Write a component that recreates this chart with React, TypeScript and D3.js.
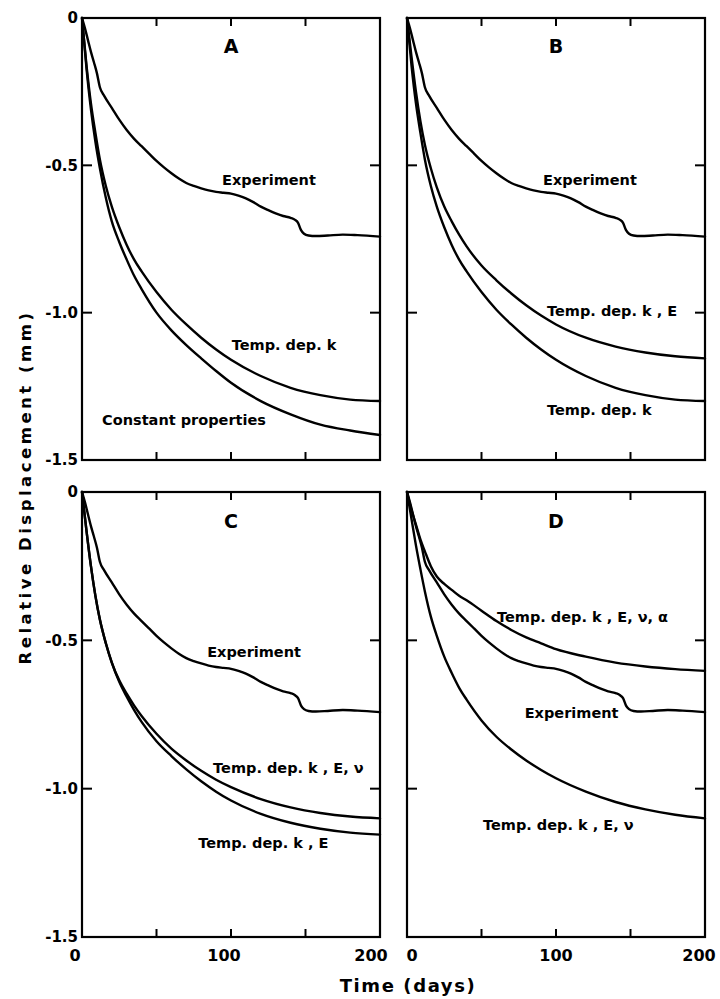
import React from "react";
import * as d3 from "d3";

// ---------- data ----------
const modelT = [0, 3, 6, 9, 12, 16, 20, 25, 30, 35, 40, 50, 60, 70, 80, 90, 100, 120, 140, 160, 180, 200];

const expT = [0, 2, 4, 6, 8, 10, 12, 15, 20, 25, 30, 35, 40, 45, 50, 55, 60, 65, 70, 75, 80, 85, 90, 95, 100, 105, 110, 115, 120, 125, 130, 135, 140, 143, 145, 147, 149, 152, 157, 165, 175, 185, 200];
const expV = [0, -0.035, -0.075, -0.115, -0.15, -0.187, -0.235, -0.265, -0.305, -0.345, -0.38, -0.41, -0.435, -0.46, -0.485, -0.507, -0.527, -0.545, -0.56, -0.57, -0.578, -0.585, -0.59, -0.593, -0.596, -0.603, -0.612, -0.625, -0.64, -0.652, -0.663, -0.672, -0.678, -0.685, -0.695, -0.72, -0.732, -0.738, -0.74, -0.738, -0.735, -0.737, -0.742];

const constProps = [0, -0.17, -0.31, -0.42, -0.51, -0.61, -0.69, -0.76, -0.82, -0.875, -0.92, -1.0, -1.06, -1.11, -1.155, -1.198, -1.238, -1.3, -1.345, -1.38, -1.4, -1.415];
const tempK = [0, -0.16, -0.29, -0.39, -0.48, -0.57, -0.64, -0.71, -0.77, -0.82, -0.86, -0.93, -0.99, -1.04, -1.085, -1.125, -1.16, -1.215, -1.255, -1.28, -1.295, -1.3];
const tempKE = [0, -0.13, -0.25, -0.35, -0.43, -0.51, -0.575, -0.64, -0.69, -0.735, -0.775, -0.84, -0.89, -0.935, -0.975, -1.01, -1.04, -1.085, -1.115, -1.135, -1.148, -1.155];
const tempKENu = [0, -0.13, -0.25, -0.35, -0.43, -0.51, -0.575, -0.635, -0.68, -0.72, -0.755, -0.815, -0.865, -0.905, -0.94, -0.97, -0.995, -1.035, -1.063, -1.082, -1.094, -1.1];
const tempKENuD = [0, -0.09, -0.18, -0.26, -0.335, -0.42, -0.485, -0.555, -0.61, -0.66, -0.7, -0.77, -0.825, -0.868, -0.905, -0.937, -0.965, -1.01, -1.045, -1.07, -1.088, -1.1];
const tempKENuAlpha = [0, -0.06, -0.11, -0.16, -0.2, -0.25, -0.285, -0.31, -0.33, -0.35, -0.365, -0.4, -0.435, -0.465, -0.49, -0.51, -0.53, -0.555, -0.575, -0.588, -0.597, -0.603];

const xTicksMinor = [50, 100, 150];
const yTicksMinor = [-0.5, -1.0];
const yTickLabels = ["0", "-0.5", "-1.0", "-1.5"];
const yTickValues = [0, -0.5, -1.0, -1.5];
const xTickValues = [0, 100, 200];
const xTickLabels = ["0", "100", "200"];

type Series = { t: number[]; v: number[]; label: string; lt: number; lv: number };
type Panel = { letter: string; col: number; row: number; series: Series[] };

const panels: Panel[] = [
  {
    letter: "A", col: 0, row: 0,
    series: [
      { t: expT, v: expV, label: "Experiment", lt: 94, lv: -0.567 },
      { t: modelT, v: tempK, label: "Temp. dep. k", lt: 100.5, lv: -1.127 },
      { t: modelT, v: constProps, label: "Constant properties", lt: 13.5, lv: -1.381 },
    ],
  },
  {
    letter: "B", col: 1, row: 0,
    series: [
      { t: expT, v: expV, label: "Experiment", lt: 91.3, lv: -0.567 },
      { t: modelT, v: tempKE, label: "Temp. dep. k , E", lt: 94, lv: -1.011 },
      { t: modelT, v: tempK, label: "Temp. dep. k", lt: 94, lv: -1.347 },
    ],
  },
  {
    letter: "C", col: 0, row: 1,
    series: [
      { t: expT, v: expV, label: "Experiment", lt: 84, lv: -0.556 },
      { t: modelT, v: tempKENu, label: "Temp. dep. k , E, ν", lt: 88, lv: -0.947 },
      { t: modelT, v: tempKE, label: "Temp. dep. k , E", lt: 78, lv: -1.2 },
    ],
  },
  {
    letter: "D", col: 1, row: 1,
    series: [
      { t: modelT, v: tempKENuAlpha, label: "Temp. dep. k , E, ν, α", lt: 60.4, lv: -0.438 },
      { t: expT, v: expV, label: "Experiment", lt: 79, lv: -0.762 },
      { t: modelT, v: tempKENuD, label: "Temp. dep. k , E, ν", lt: 51, lv: -1.139 },
    ],
  },
];

// ---------- layout ----------
const W = 720;
const H = 999;
const colX = [[82, 380], [407, 705]];
const rowY = [[18, 460], [492, 937]];
const FONT = "'DejaVu Sans', sans-serif";
const TICK = 8;

function PanelView({ p }: { p: Panel }) {
  const [x0, x1] = colX[p.col];
  const [y0, y1] = rowY[p.row];
  const x = d3.scaleLinear().domain([0, 200]).range([x0, x1]);
  const y = d3.scaleLinear().domain([0, -1.5]).range([y0, y1]);
  const line = d3
    .line<[number, number]>()
    .x((d) => x(d[0]))
    .y((d) => y(d[1]))
    .curve(d3.curveMonotoneX);
  return (
    <g>
      {p.series.map((s, i) => (
        <path
          key={i}
          d={line(s.t.map((t, j) => [t, s.v[j]] as [number, number])) || ""}
          fill="none"
          stroke="#000"
          strokeWidth={2.4}
          strokeLinejoin="round"
          strokeLinecap="round"
        />
      ))}
      <rect x={x0} y={y0} width={x1 - x0} height={y1 - y0} fill="none" stroke="#000" strokeWidth={2.2} />
      {xTicksMinor.map((t) => (
        <g key={"xt" + t}>
          <line x1={x(t)} x2={x(t)} y1={y0} y2={y0 + TICK} stroke="#000" strokeWidth={2} />
          <line x1={x(t)} x2={x(t)} y1={y1} y2={y1 - TICK} stroke="#000" strokeWidth={2} />
        </g>
      ))}
      {yTicksMinor.map((v) => (
        <g key={"yt" + v}>
          <line x1={x0} x2={x0 + TICK + 2} y1={y(v)} y2={y(v)} stroke="#000" strokeWidth={2} />
          <line x1={x1} x2={x1 - TICK - 2} y1={y(v)} y2={y(v)} stroke="#000" strokeWidth={2} />
        </g>
      ))}
      {p.col === 0 &&
        yTickValues.map((v, i) => (
          <text
            key={"yl" + v}
            x={x0 - 4}
            y={y(v)}
            dy="0.36em"
            textAnchor="end"
            fontFamily={FONT}
            fontWeight="bold"
            fontSize={15}
          >
            {yTickLabels[i]}
          </text>
        ))}
      {p.row === 1 &&
        xTickValues.map((t, i) => {
          const shift = p.col === 0 ? [-7, -7, -9] : [5, 0, -6];
          return (
            <text
              key={"xl" + t}
              x={x(t) + shift[i]}
              y={y1 + 24}
              textAnchor="middle"
              fontFamily={FONT}
              fontWeight="bold"
              fontSize={16}
            >
              {xTickLabels[i]}
            </text>
          );
        })}
      <text
        x={x(100)}
        y={y(-0.12)}
        textAnchor="middle"
        fontFamily={FONT}
        fontWeight="bold"
        fontSize={19}
      >
        {p.letter}
      </text>
      {p.series.map((s, i) => (
        <text
          key={"lab" + i}
          x={x(s.lt)}
          y={y(s.lv)}
          fontFamily={FONT}
          fontWeight="bold"
          fontSize={14.5}
        >
          {s.label}
        </text>
      ))}
    </g>
  );
}

export default function App() {
  return (
    <svg width={W} height={H} viewBox={`0 0 ${W} ${H}`} style={{ position: "absolute", left: 0, top: 0, background: "#fff" }}>
      <rect x={0} y={0} width={W} height={H} fill="#fff" />
      {panels.map((p) => (
        <PanelView key={p.letter} p={p} />
      ))}
      <text
        x={408}
        y={992}
        textAnchor="middle"
        fontFamily={FONT}
        fontWeight="bold"
        fontSize={18}
        letterSpacing={1.6}
      >
        Time (days)
      </text>
      <text
        transform={`translate(31, 487) rotate(-90)`}
        textAnchor="middle"
        fontFamily={FONT}
        fontWeight="bold"
        fontSize={16.5}
        letterSpacing={3.5}
      >
        Relative Displacement (mm)
      </text>
    </svg>
  );
}
